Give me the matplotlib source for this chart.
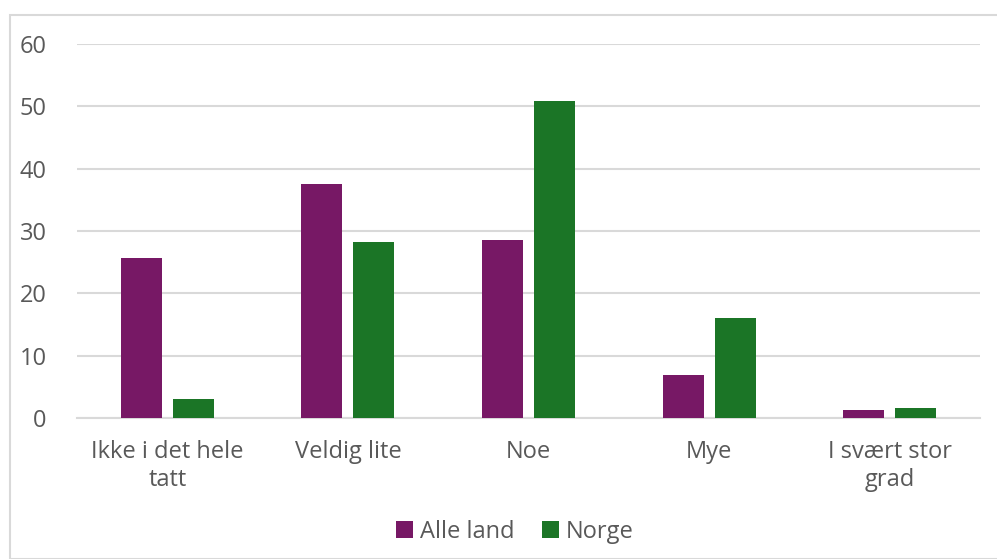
import matplotlib
matplotlib.use("Agg")
import matplotlib.pyplot as plt
import numpy as np
from matplotlib.patches import Rectangle

categories = ["Ikke i det hele\ntatt", "Veldig lite", "Noe", "Mye", "I svært stor\ngrad"]
alle_land = [25.7, 37.5, 28.6, 6.9, 1.3]
norge = [3.0, 28.2, 50.9, 16.0, 1.6]
series_names = ["Alle land", "Norge"]
yticks = [0, 10, 20, 30, 40, 50, 60]

purple = "#771865"
green = "#1B7526"
text_color = "#595959"
grid_color = "#d9d9d9"

plt.rcParams['font.family'] = ['Open Sans', 'DejaVu Sans']

fig = plt.figure(figsize=(9.97, 5.59), dpi=100)
ax = fig.add_axes([77/997, 1-418/559, (980-77)/997, (418-44)/559])

x = np.arange(len(categories))
w = 0.227
gap = 0.06
ax.bar(x - (w+gap)/2, alle_land, width=w, color=purple, label=series_names[0], zorder=3)
ax.bar(x + (w+gap)/2, norge, width=w, color=green, label=series_names[1], zorder=3)

ax.set_xlim(-0.5, len(categories)-0.5)
ax.set_ylim(0, 60)
ax.set_yticks(yticks)
ax.yaxis.grid(True, color=grid_color, linewidth=1.5, zorder=0)
ax.set_axisbelow(True)
for s in ["top", "right", "left"]:
    ax.spines[s].set_visible(False)
ax.spines["bottom"].set_color(grid_color)
ax.spines["bottom"].set_linewidth(1.5)
ax.tick_params(axis="both", length=0, colors=text_color, labelsize=17)
ax.tick_params(axis="y", pad=22)
ax.tick_params(axis="x", pad=16)
ax.set_xticks(x)
ax.set_xticklabels(categories, linespacing=1.2)

leg = ax.legend(loc="center", bbox_to_anchor=(515/997, 1-532/559), bbox_transform=fig.transFigure,
                ncol=2, frameon=False, fontsize=17, handlelength=0.7, handleheight=0.7,
                handletextpad=0.3, columnspacing=1.2)
for t in leg.get_texts():
    t.set_color(text_color)

fig.patches.append(Rectangle((10/997, 0), 1.1, 1-15/559, transform=fig.transFigure,
                             fill=False, edgecolor=grid_color, linewidth=1.5))

fig.savefig("out.png", dpi=100)
